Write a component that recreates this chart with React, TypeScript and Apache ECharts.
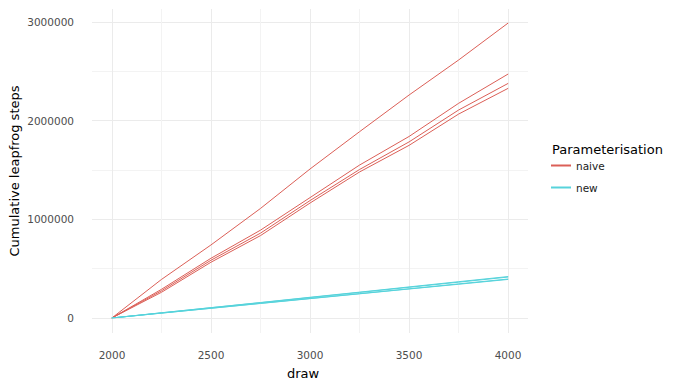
import React, { useEffect, useRef } from "react";
import * as echarts from "echarts";

const draws = [2000, 2250, 2500, 2750, 3000, 3250, 3500, 3750, 4000];

const naiveChain1 = [0, 390000, 740000, 1110000, 1510000, 1888000, 2260000, 2615000, 2990000];
const naiveChain2 = [0, 290000, 605000, 890000, 1220000, 1550000, 1840000, 2176000, 2473000];
const naiveChain3 = [0, 275000, 585000, 860000, 1190000, 1505000, 1785000, 2108000, 2378000];
const naiveChain4 = [0, 260000, 565000, 835000, 1165000, 1480000, 1750000, 2067000, 2328000];

const newChain1 = [0, 53000, 105000, 157000, 210000, 262000, 315000, 368000, 420000];
const newChain2 = [0, 52000, 104000, 155000, 207000, 259000, 311000, 363000, 415000];
const newChain3 = [0, 50000, 99000, 149000, 198000, 247000, 296000, 346000, 395000];
const newChain4 = [0, 49000, 98000, 147000, 196000, 245000, 294000, 342000, 391000];

const yTicks = [0, 1000000, 2000000, 3000000];
const xTicks = [2000, 2500, 3000, 3500, 4000];

const groups = [
  { name: "naive", color: "#DB5F57", chains: [naiveChain1, naiveChain2, naiveChain3, naiveChain4] },
  { name: "new", color: "#57D3DB", chains: [newChain1, newChain2, newChain3, newChain4] },
];

const FONT = "DejaVu Sans";

export default function App() {
  const ref = useRef<HTMLDivElement>(null);

  useEffect(() => {
    if (!ref.current) return;
    const chart = echarts.init(ref.current, undefined, { renderer: "svg" });

    const series: any[] = [];
    groups.forEach((g) => {
      g.chains.forEach((c) => {
        series.push({
          type: "line",
          name: g.name,
          xAxisIndex: 0,
          yAxisIndex: 0,
          data: draws.map((d, i) => [d, c[i]]),
          showSymbol: false,
          symbol: "none",
          color: g.color,
          lineStyle: { color: g.color, width: 1 },
          itemStyle: { color: g.color },
        });
      });
    });

    chart.setOption({
      animation: false,
      backgroundColor: "#ffffff",
      textStyle: { fontFamily: FONT },
      grid: [
        { left: 92, right: 162, top: 22, bottom: 70 },
        { left: 112, right: 182, top: 9, bottom: 55 },
      ],
      xAxis: [
        { type: "value", gridIndex: 0, min: 1900, max: 4100, show: false },
        {
          type: "value",
          gridIndex: 1,
          min: xTicks[0],
          max: xTicks[xTicks.length - 1],
          interval: 500,
          axisLine: { show: false },
          axisTick: { show: false },
          axisLabel: {
            margin: 16,
            fontSize: 10.5,
            color: "#4D4D4D",
            fontFamily: FONT,
            formatter: (v: number) => String(v),
          },
          splitLine: { show: true, lineStyle: { color: "#EBEBEB", width: 1 } },
          minorTick: { show: false, splitNumber: 2 },
          minorSplitLine: { show: true, lineStyle: { color: "#F3F3F3", width: 1 } },
        },
      ],
      yAxis: [
        {
          type: "value",
          gridIndex: 0,
          min: yTicks[0],
          max: yTicks[yTicks.length - 1],
          interval: 1000000,
          axisLine: { show: false },
          axisTick: { show: false },
          axisLabel: {
            margin: 18,
            fontSize: 10.5,
            color: "#4D4D4D",
            fontFamily: FONT,
            formatter: (v: number) => String(v),
          },
          splitLine: { show: true, lineStyle: { color: "#EBEBEB", width: 1 } },
          minorTick: { show: false, splitNumber: 2 },
          minorSplitLine: { show: true, lineStyle: { color: "#F3F3F3", width: 1 } },
        },
        { type: "value", gridIndex: 1, min: 0, max: 1, show: false },
      ],
      legend: {
        data: ["naive", "new"],
        orient: "vertical",
        left: 546,
        top: 155,
        padding: 5,
        itemWidth: 20,
        itemHeight: 2,
        itemGap: 11,
        icon: "rect",
        selectedMode: false,
        textStyle: { fontSize: 10.5, color: "#1A1A1A", fontFamily: FONT },
      },
      graphic: [
        {
          type: "text",
          x: 14,
          y: 171,
          rotation: Math.PI / 2,
          style: {
            text: "Cumulative leapfrog steps",
            fontSize: 13,
            fontFamily: FONT,
            fill: "#000000",
            align: "center",
            verticalAlign: "middle",
          },
        },
        {
          type: "text",
          x: 303,
          y: 373,
          style: {
            text: "draw",
            fontSize: 13,
            fontFamily: FONT,
            fill: "#000000",
            align: "center",
            verticalAlign: "middle",
          },
        },
        {
          type: "text",
          x: 552,
          y: 149,
          style: {
            text: "Parameterisation",
            fontSize: 13,
            fontFamily: FONT,
            fill: "#000000",
            align: "left",
            verticalAlign: "middle",
          },
        },
      ],
      series,
    });

    return () => chart.dispose();
  }, []);

  return (
    <div
      ref={ref}
      style={{ position: "absolute", left: 0, top: 0, width: 690, height: 388, background: "#fff" }}
    />
  );
}
